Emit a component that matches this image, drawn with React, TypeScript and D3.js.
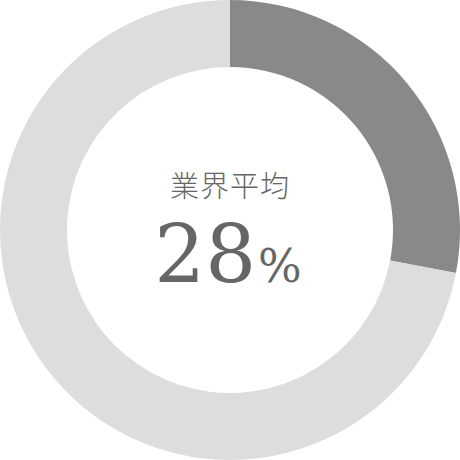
import * as d3 from 'd3';
import React from 'react';

const categories = ['業界平均', 'その他'];
const values = [28, 72];
const colors = ['#898989', '#dcdddd'];
const label = '業界平均';
const valueText = '28';

const W = 460;
const H = 460;
const serif = "'DejaVu Serif', serif";

export default function App() {
  const outer = 230;
  const inner = 163;
  const pie = d3
    .pie<number>()
    .sort(null)
    .value((d) => d);
  const arcs = pie(values);
  const arc = d3
    .arc<d3.PieArcDatum<number>>()
    .innerRadius(inner)
    .outerRadius(outer);

  return (
    <div style={{ position: 'absolute', left: 0, top: 0 }}>
      <svg width={W} height={H} style={{ display: 'block' }}>
        <g transform={`translate(${W / 2},${H / 2})`}>
          {arcs.map((a, i) => (
            <path key={categories[i]} d={arc(a) || ''} fill={colors[i]} />
          ))}
          <text
            x={0}
            y={-33}
            textAnchor="middle"
            fill="#666"
            fontFamily="'Noto Sans CJK JP', sans-serif"
            fontSize={29}
            fontWeight={300}
            letterSpacing={1}
          >
            {label}
          </text>
          <text x={-2} y={52} textAnchor="middle" fill="#666" fontFamily={serif}>
            <tspan fontSize={80}>{valueText}</tspan>
            <tspan fontSize={46} dx={2}>
              %
            </tspan>
          </text>
        </g>
      </svg>
    </div>
  );
}
